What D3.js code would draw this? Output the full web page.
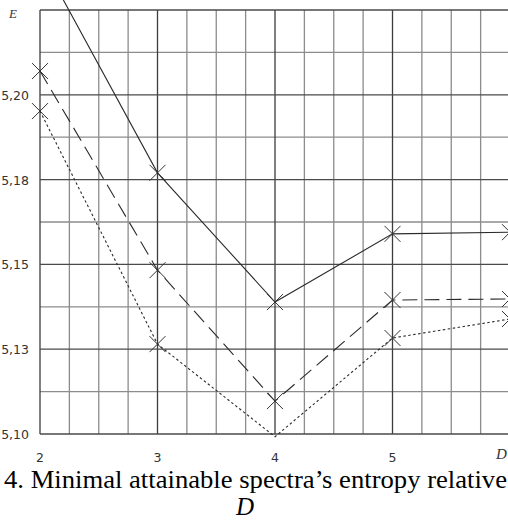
<!DOCTYPE html>
<html>
<head>
<meta charset="utf-8">
<script src="https://cdn.jsdelivr.net/npm/d3@7"></script>
<style>
  body { margin: 0; background: #fff; }
  svg { display: block; }
</style>
</head>
<body>
<div id="plot"></div>
<script>
    const dValues = [2, 3, 4, 5, 6];
    const solidData = [5.2406, 5.1770, 5.1389, 5.1590, 5.1595];
    const dashedData = [5.2070, 5.1483, 5.1097, 5.1395, 5.1398];
    const dottedData = [5.1952, 5.1265, 5.0992, 5.1283, 5.1339];
    const yTicks = [5.100, 5.125, 5.150, 5.175, 5.200];
    const yTickLabels = ["5,10", "5,13", "5,15", "5,18", "5,20"];
    const xTickLabels = ["2", "3", "4", "5"];

    const svg = d3.select("div#plot")
      .append("svg")
        .attr("width", "508")
        .attr("height", "521");

    const xScale = d3.scaleLinear()
      .domain([2, 6])
      .range([40, 510]);

    const yScale = d3.scaleLinear()
      .domain([5.1, 5.225])
      .range([434, 10]);

    // minor grid
    const grid = svg.append("g");
    grid.selectAll(".vminor")
      .data(d3.range(2, 6.01, 0.25).filter(d => Math.abs(d - Math.round(d)) > 0.01))
      .enter()
      .append("line")
        .attr("x1", d => xScale(d))
        .attr("x2", d => xScale(d))
        .attr("y1", yScale(5.225))
        .attr("y2", yScale(5.1))
        .attr("stroke", "#8c8c8c")
        .attr("stroke-width", 1.3);

    grid.selectAll(".hminor")
      .data([5.1125, 5.1375, 5.1625, 5.1875, 5.2125])
      .enter()
      .append("line")
        .attr("x1", xScale(2))
        .attr("x2", 508)
        .attr("y1", d => yScale(d))
        .attr("y2", d => yScale(d))
        .attr("stroke", "#8c8c8c")
        .attr("stroke-width", 1.3);

    // major grid
    grid.selectAll(".vmajor")
      .data([2, 3, 4, 5])
      .enter()
      .append("line")
        .attr("x1", d => xScale(d))
        .attr("x2", d => xScale(d))
        .attr("y1", yScale(5.225))
        .attr("y2", yScale(5.1))
        .attr("stroke", "#3c3c3c")
        .attr("stroke-width", 1.3);

    grid.selectAll(".hmajor")
      .data(yTicks.concat([5.225]))
      .enter()
      .append("line")
        .attr("x1", xScale(2))
        .attr("x2", 508)
        .attr("y1", d => yScale(d))
        .attr("y2", d => yScale(d))
        .attr("stroke", "#4a4a4a")
        .attr("stroke-width", 1.3);

    // tick labels
    svg.selectAll(".ylab")
      .data(yTicks)
      .enter()
      .append("text")
        .attr("x", 29)
        .attr("y", d => yScale(d) + 5)
        .attr("text-anchor", "end")
        .style("font-family", "DejaVu Sans")
        .style("font-size", "12.5px")
        .style("fill", "#333")
        .text((d, i) => yTickLabels[i]);

    svg.selectAll(".xlab")
      .data(xTickLabels)
      .enter()
      .append("text")
        .attr("x", d => xScale(+d))
        .attr("y", 462)
        .attr("text-anchor", "middle")
        .style("font-family", "DejaVu Sans")
        .style("font-size", "12.5px")
        .style("fill", "#333")
        .text(d => d);

    svg.append("text")
      .attr("x", 9)
      .attr("y", 18)
      .style("font-family", "Liberation Serif")
      .style("font-style", "italic")
      .style("font-size", "13px")
      .style("fill", "#333")
      .text("E");

    svg.append("text")
      .attr("x", 496)
      .attr("y", 459)
      .style("font-family", "Liberation Serif")
      .style("font-style", "italic")
      .style("font-size", "15px")
      .style("fill", "#333")
      .text("D");

    // series
    const series = [
      { values: solidData, dash: null },
      { values: dashedData, dash: "15,7" },
      { values: dottedData, dash: "2.5,2.5" }
    ];

    const line = d3.line()
      .x((d, i) => xScale(dValues[i]))
      .y(d => yScale(d));

    series.forEach(s => {
      svg.append("path")
        .attr("d", line(s.values))
        .attr("fill", "none")
        .attr("stroke", "#2a2a2a")
        .attr("stroke-width", 1.1)
        .attr("stroke-dasharray", s.dash);

      const pts = s.values
        .map((v, i) => ({ x: xScale(dValues[i]), y: yScale(v), v: v }))
        .filter(p => p.v >= 5.1 && p.y > 0);

      svg.selectAll(null)
        .data(pts)
        .enter()
        .append("path")
          .attr("d", p => `M${p.x - 8},${p.y - 8}L${p.x + 8},${p.y + 8}M${p.x - 8},${p.y + 8}L${p.x + 8},${p.y - 8}`)
          .attr("stroke", "#333")
          .attr("stroke-width", 1)
          .attr("fill", "none");
    });

    // caption
    svg.append("text")
      .attr("x", 4)
      .attr("y", 488)
      .attr("textLength", 503)
      .attr("lengthAdjust", "spacingAndGlyphs")
      .style("font-family", "Liberation Serif")
      .style("font-size", "25px")
      .style("fill", "#000")
      .text("4. Minimal attainable spectra\u2019s entropy relative");

    svg.append("text")
      .attr("x", 245)
      .attr("y", 515)
      .attr("text-anchor", "middle")
      .style("font-family", "Liberation Serif")
      .style("font-style", "italic")
      .style("font-size", "25px")
      .style("fill", "#000")
      .text("D");
</script>
</body>
</html>
